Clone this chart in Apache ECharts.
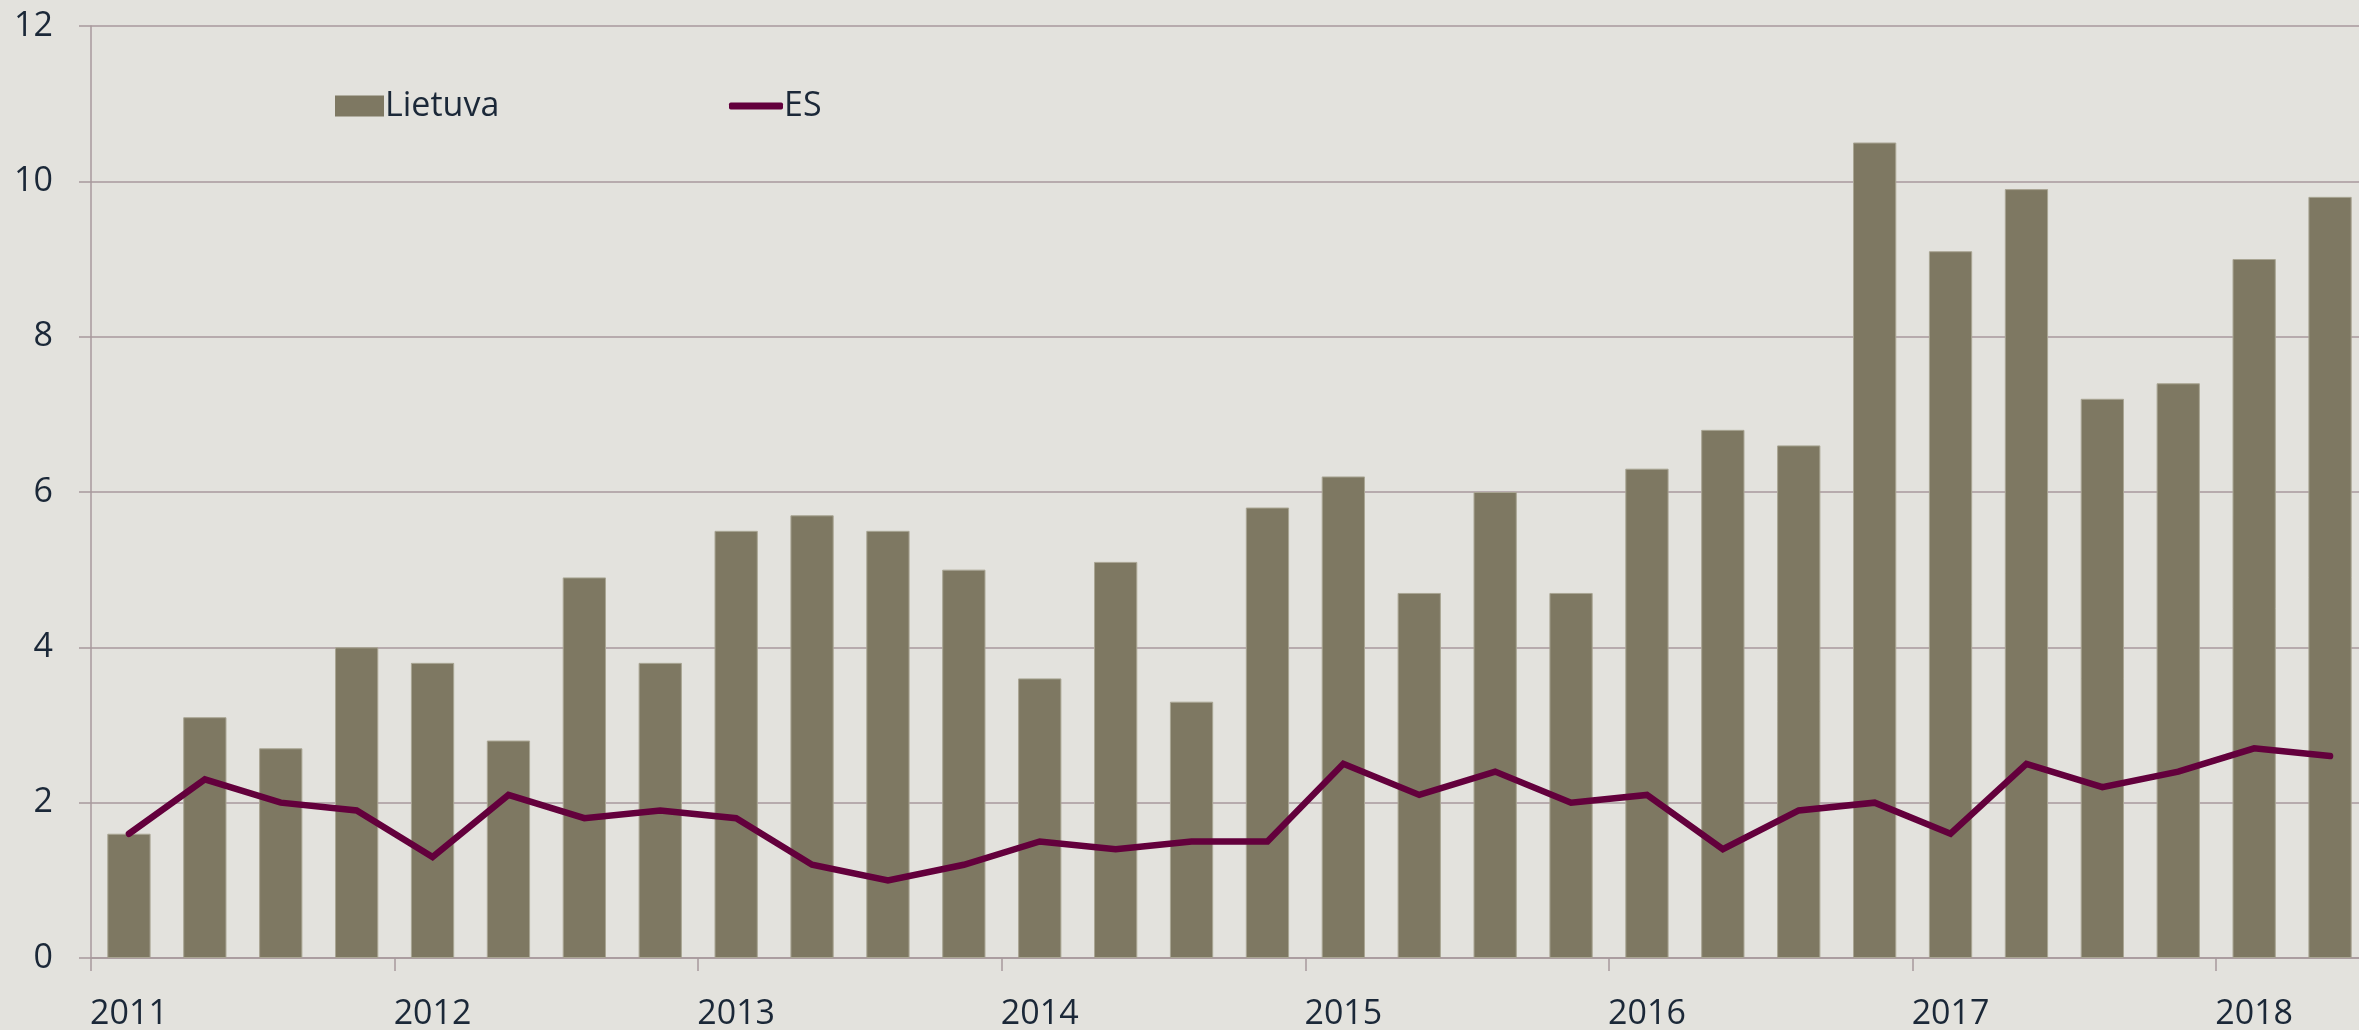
<!DOCTYPE html>
<html>
<head>
<meta charset="utf-8">
<script src="https://cdn.jsdelivr.net/npm/echarts@6/dist/echarts.min.js"></script>
<style>
html,body{margin:0;padding:0;background:#e3e2dd;}
#chart{width:2359px;height:1030px;}
</style>
</head>
<body>
<div id="chart"></div>
<script>
const quarters = [
  '2011Q1','2011Q2','2011Q3','2011Q4',
  '2012Q1','2012Q2','2012Q3','2012Q4',
  '2013Q1','2013Q2','2013Q3','2013Q4',
  '2014Q1','2014Q2','2014Q3','2014Q4',
  '2015Q1','2015Q2','2015Q3','2015Q4',
  '2016Q1','2016Q2','2016Q3','2016Q4',
  '2017Q1','2017Q2','2017Q3','2017Q4',
  '2018Q1','2018Q2'
];
const lietuva = [1.6,3.1,2.7,4.0, 3.8,2.8,4.9,3.8, 5.5,5.7,5.5,5.0, 3.6,5.1,3.3,5.8, 6.2,4.7,6.0,4.7, 6.3,6.8,6.6,10.5, 9.1,9.9,7.2,7.4, 9.0,9.8];
const es = [1.6,2.3,2.0,1.9, 1.3,2.1,1.8,1.9, 1.8,1.2,1.0,1.2, 1.5,1.4,1.5,1.5, 2.5,2.1,2.4,2.0, 2.1,1.4,1.9,2.0, 1.6,2.5,2.2,2.4, 2.7,2.6];
const yTicks = [0,2,4,6,8,10,12];

const axisColor = '#a8999c';
const textColor = '#1b2838';
const barColor = '#7e7862';
const lineColor = '#63003c';
const font = 'Open Sans';

const chart = echarts.init(document.getElementById('chart'));
chart.setOption({
  backgroundColor: '#e3e2dd',
  animation: false,
  textStyle: {fontFamily: font},
  grid: {left: 91, width: 2277, top: 26, bottom: 72, containLabel: false, outerBoundsMode: 'none'},
  legend: [
    {data: [{name: 'Lietuva', icon: 'rect', itemStyle: {color: barColor, borderWidth: 0}}],
     left: 330, top: 84, itemWidth: 49, itemHeight: 21, itemGap: 0,
     textStyle: {fontFamily: font, fontSize: 34, color: textColor, padding: [0,0,0,-4]}},
    {data: [{name: 'ES', icon: 'roundRect', itemStyle: {color: lineColor, borderWidth: 0}}],
     left: 724, top: 84, itemWidth: 54, itemHeight: 7, itemGap: 0,
     textStyle: {fontFamily: font, fontSize: 34, color: textColor, padding: [0,0,0,-4]}}
  ],
  xAxis: {
    type: 'category',
    data: quarters,
    boundaryGap: true,
    axisLine: {lineStyle: {color: axisColor, width: 1.5}},
    axisTick: {show: true, interval: 3, length: 13, lineStyle: {color: axisColor, width: 1.5}},
    axisLabel: {interval: 3, margin: 39, fontSize: 34, color: textColor, fontFamily: font,
      formatter: v => v.slice(0,4)}
  },
  yAxis: {
    type: 'value',
    min: yTicks[0], max: yTicks[yTicks.length-1], interval: 2,
    axisLine: {show: true, lineStyle: {color: axisColor, width: 1.5}},
    axisTick: {show: true, length: 12, lineStyle: {color: axisColor, width: 1.5}},
    splitLine: {show: true, lineStyle: {color: axisColor, width: 1.5}},
    axisLabel: {margin: 38, fontSize: 34, color: textColor, fontFamily: font}
  },
  series: [
    {name: 'Lietuva', type: 'bar', data: lietuva, barWidth: '57%',
     itemStyle: {color: barColor, borderColor: '#a9a593', borderWidth: 1}},
    {name: 'ES', type: 'line', data: es, symbol: 'none', showSymbol: false,
     lineStyle: {color: lineColor, width: 6.5, cap: 'round', join: 'miter'},
     itemStyle: {color: lineColor}}
  ]
});
</script>
</body>
</html>
